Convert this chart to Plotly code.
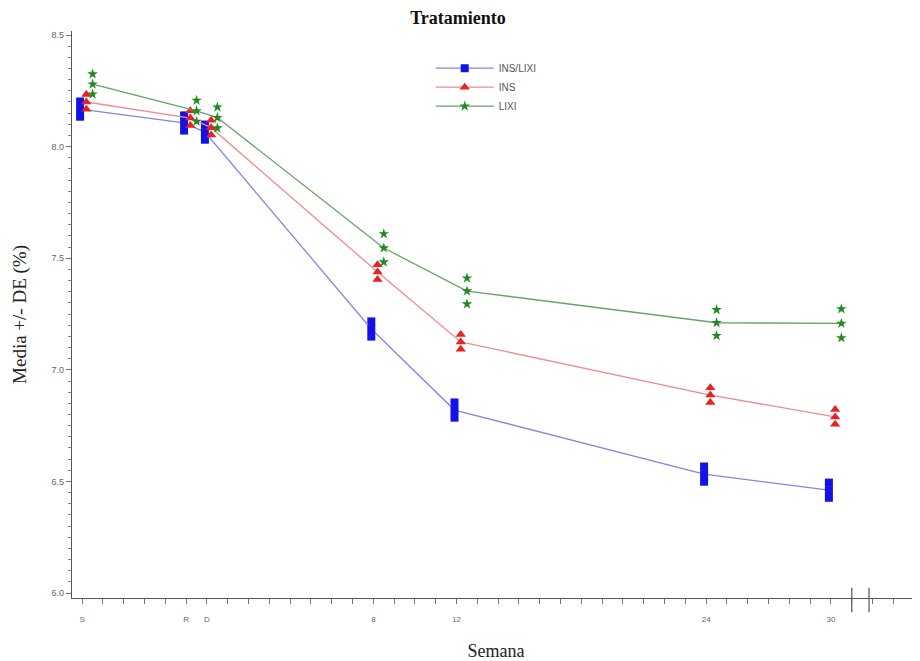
import plotly.graph_objects as go

# ---- data ----
weeks = [-6, -1, 0, 8, 12, 24, 30]
week_labels = ["S", "R", "D", "8", "12", "24", "30"]

ins_lixi_mean = [8.168, 8.106, 8.065, 7.183, 6.820, 6.533, 6.461]
ins_lixi_se = [0.034, 0.034, 0.034, 0.034, 0.034, 0.034, 0.034]

ins_mean = [8.200, 8.128, 8.085, 7.438, 7.125, 6.887, 6.789]
ins_se = [0.033, 0.033, 0.033, 0.033, 0.033, 0.033, 0.033]

lixi_mean = [8.280, 8.160, 8.130, 7.546, 7.353, 7.211, 7.208]
lixi_se = [0.045, 0.047, 0.047, 0.063, 0.058, 0.058, 0.065]

series = [
    # name, mean, se, x-offset (weeks), marker symbol, marker color, line color, size
    ("INS/LIXI", ins_lixi_mean, ins_lixi_se, -0.1, "square", "#1212e6", "#8585e3", 8),
    ("INS", ins_mean, ins_se, 0.2, "triangle-up", "#e62222", "#f08c8c", 9),
    ("LIXI", lixi_mean, lixi_se, 0.5, "star", "#1f8a1f", "#63a663", 8),
]

fig = go.Figure()
for name, mean, se, off, sym, mcol, lcol, msize in series:
    xs = [w + off for w in weeks]
    # +/- markers
    fig.add_trace(go.Scatter(
        x=xs + xs, y=[m - s for m, s in zip(mean, se)] + [m + s for m, s in zip(mean, se)],
        mode="markers", showlegend=False, hoverinfo="skip",
        marker=dict(symbol=sym, color=mcol, size=msize, line=dict(width=0)),
    ))
    # mean line with marker
    fig.add_trace(go.Scatter(
        x=xs, y=mean, mode="lines+markers", name=name,
        line=dict(color=lcol, width=1.3),
        marker=dict(symbol=sym, color=mcol, size=msize, line=dict(width=0)),
    ))

# axis break marks
for xb in [31.0, 31.83]:
    fig.add_shape(type="line", xref="x", yref="paper", x0=xb, x1=xb, y0=-0.025, y1=0.018,
                  line=dict(color="#555555", width=1.2))

# the page adds an 8px body margin, so the figure is 8px smaller than the window
fig.update_layout(
    width=912, height=653,
    margin=dict(l=64, r=0, t=23, b=63),
    paper_bgcolor="white", plot_bgcolor="white",
    title=dict(text="<b>Tratamiento</b>", x=450 / 912, xref="container", xanchor="center",
               y=1 - 10 / 653, yref="container", yanchor="middle",
               font=dict(family="Liberation Serif", size=18, color="#111111")),
    legend=dict(x=0.423, y=0.96, xanchor="left", yanchor="top",
                bgcolor="rgba(0,0,0,0)", tracegroupgap=0, itemwidth=58,
                font=dict(family="Liberation Sans", size=10, color="#555555")),
    xaxis=dict(
        range=[-6.49, 34.28], showgrid=False, zeroline=False, automargin=False,
        showline=True, linecolor="#555555", linewidth=1.2,
        tickmode="array", tickvals=weeks, ticktext=week_labels,
        ticks="outside", ticklen=5, tickcolor="#777777", ticklabelstandoff=8,
        minor=dict(dtick=1, tick0=0, ticks="outside", ticklen=5, tickcolor="#777777"),
        tickfont=dict(family="Liberation Sans", size=8, color="#666666"),
        title=dict(text="Semana", standoff=24,
                   font=dict(family="Liberation Serif", size=18, color="#222222")),
    ),
    yaxis=dict(
        range=[5.978, 8.518], showgrid=False, zeroline=False,
        showline=True, linecolor="#555555", linewidth=1.2,
        tickmode="linear", tick0=6.0, dtick=0.5, tickformat=".1f",
        ticks="outside", ticklen=5, tickcolor="#777777",
        minor=dict(dtick=0.05, tick0=6.0, ticks="outside", ticklen=3, tickcolor="#888888"),
        tickfont=dict(family="Liberation Sans", size=9, color="#666666"),
        title=dict(text="Media +/- DE (%)", standoff=19,
                   font=dict(family="Liberation Serif", size=19, color="#222222")),
    ),
)

fig.write_html("out.html")
